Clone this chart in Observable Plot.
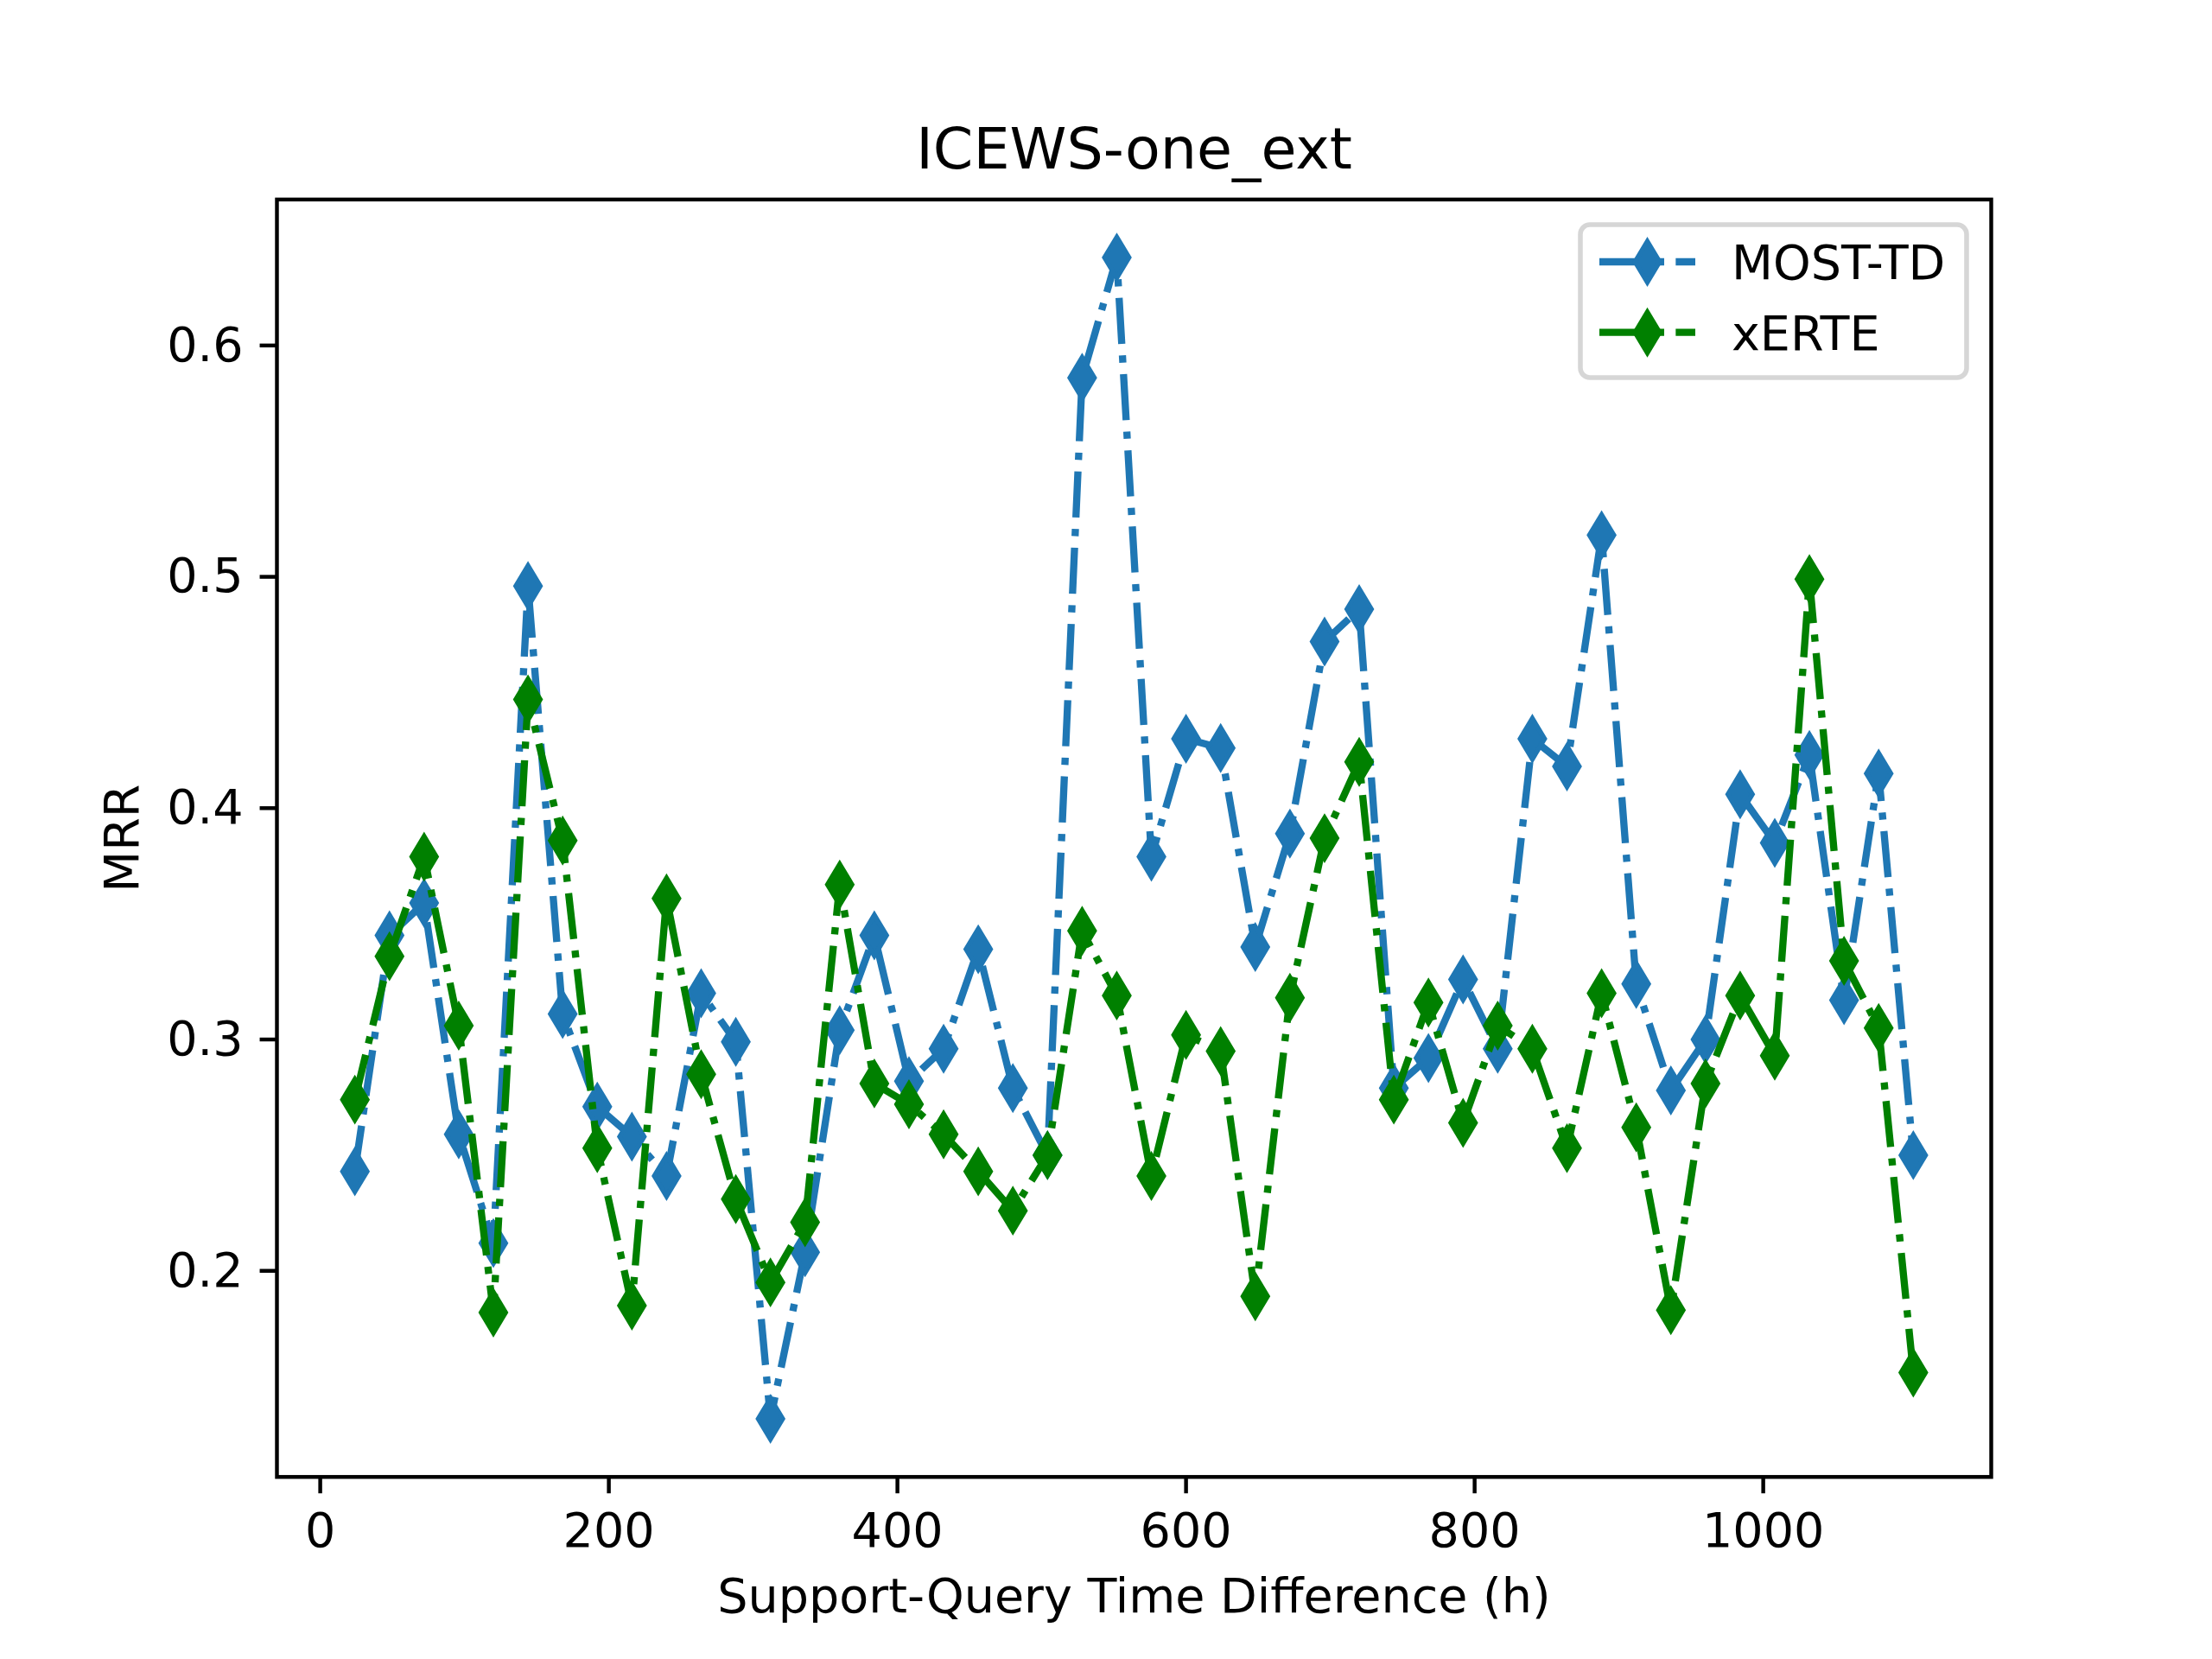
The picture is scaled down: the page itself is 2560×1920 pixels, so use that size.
<!DOCTYPE html>
<html><head><meta charset="utf-8">
<script src="https://cdn.jsdelivr.net/npm/d3@7"></script>
<script src="https://cdn.jsdelivr.net/npm/@observablehq/plot@0.6"></script>
<style>
html,body{margin:0;padding:0;background:#fff;}
#wrap{position:relative;width:2560px;height:1920px;font-family:"DejaVu Sans",sans-serif;}
#legend{position:absolute;left:0;top:0;pointer-events:none;}
</style></head><body><div id="wrap"></div>
<script>
const chartTitle = "ICEWS-one_ext";
const xLabel = "Support-Query Time Difference (h)";
const yLabel = "MRR";
const seriesNames = ["MOST-TD", "xERTE"];
const seriesColors = ["#1f77b4", "#008000"];
const xTicks = [0, 200, 400, 600, 800, 1000];
const yTicks = [0.2, 0.3, 0.4, 0.5, 0.6];
const hours = [24,48,72,96,120,144,168,192,216,240,264,288,312,336,360,384,408,432,456,480,504,528,552,576,600,624,648,672,696,720,744,768,792,816,840,864,888,912,936,960,984,1008,1032,1056,1080,1104];
const mostTD = [0.243,0.345,0.359,0.259,0.212,0.496,0.311,0.271,0.258,0.241,0.320,0.299,0.136,0.208,0.304,0.345,0.282,0.296,0.339,0.279,0.250,0.586,0.638,0.379,0.430,0.426,0.340,0.389,0.472,0.486,0.279,0.292,0.326,0.296,0.430,0.418,0.518,0.324,0.278,0.300,0.406,0.385,0.423,0.317,0.415,0.250];
const xERTE = [0.274,0.336,0.379,0.306,0.182,0.447,0.386,0.253,0.185,0.361,0.285,0.231,0.195,0.221,0.367,0.281,0.272,0.259,0.243,0.226,0.250,0.347,0.319,0.241,0.302,0.295,0.189,0.318,0.387,0.420,0.274,0.316,0.264,0.306,0.296,0.253,0.320,0.262,0.183,0.281,0.319,0.293,0.499,0.334,0.305,0.156];

const PT = 400 / 72;
const FS = 10 * PT;
const W = 2560, H = 1920;
const mL = 0.125 * W, mR = 0.1 * W, mT = 0.12 * H, mB = 0.11 * H;
function padded(vals) { const [a, b] = d3.extent(vals); const p = (b - a) * 0.05; return [a - p, b + p]; }
const seriesValues = [mostTD, xERTE];
const rows = seriesValues.map(vals => hours.map((h, i) => ({h, v: vals[i]})));
const dash = [6.4, 1.6, 1, 1.6].map(d => d * 1.5 * PT).join(",");
const HH = 6 * PT * Math.SQRT1_2, HW = 0.6 * HH;
const thinDiamond = {draw(ctx) { ctx.moveTo(0, -HH); ctx.lineTo(HW, 0); ctx.lineTo(0, HH); ctx.lineTo(-HW, 0); ctx.closePath(); }};

const seriesMarks = rows.flatMap((r, k) => [
  Plot.line(r, {x: "h", y: "v", stroke: seriesColors[k], strokeWidth: 1.5 * PT, strokeDasharray: dash, strokeLinecap: "butt", strokeLinejoin: "round"}),
  Plot.dot(r, {x: "h", y: "v", symbol: thinDiamond, fill: seriesColors[k], stroke: seriesColors[k], strokeWidth: PT, strokeLinejoin: "miter"})
]);

const chart = Plot.plot({
  width: W, height: H,
  marginLeft: mL, marginRight: mR, marginTop: mT, marginBottom: mB,
  x: {domain: padded(hours)},
  y: {domain: padded([...mostTD, ...xERTE])},
  style: {fontFamily: "DejaVu Sans", fontSize: FS + "px", background: "white", color: "black", overflow: "visible"},
  marks: [
    Plot.axisX({ticks: xTicks, tickSize: 3.5 * PT, tickPadding: 4 * PT, tickFormat: d => String(d), strokeWidth: 0.8 * PT, label: null}),
    Plot.axisY({ticks: yTicks, tickSize: 3.5 * PT, tickPadding: 3.5 * PT, tickFormat: d => d.toFixed(1), strokeWidth: 0.8 * PT, label: null}),
    ...seriesMarks,
    Plot.frame({stroke: "black", strokeWidth: 0.8 * PT}),
    Plot.text([chartTitle], {text: d => d, frameAnchor: "top", dy: -57.4, textAnchor: "middle", lineAnchor: "middle", fontSize: 12 * PT, fill: "black"}),
    Plot.text([xLabel], {text: d => d, frameAnchor: "bottom", dy: 139, textAnchor: "middle", lineAnchor: "middle", fontSize: FS, fill: "black"}),
    Plot.text([yLabel], {text: d => d, frameAnchor: "left", dx: -178, rotate: -90, textAnchor: "middle", lineAnchor: "middle", fontSize: FS, fill: "black"})
  ]
});
const wrap = document.getElementById("wrap");
wrap.appendChild(chart);

// legend (upper right)
const lg = d3.select(wrap).append("svg").attr("id", "legend").attr("width", W).attr("height", H);
lg.append("rect").attr("x", 1829).attr("y", 260).attr("width", 447).attr("height", 177).attr("rx", 11)
  .attr("fill", "white").attr("fill-opacity", 0.8).attr("stroke", "#cccccc").attr("stroke-opacity", 0.8).attr("stroke-width", PT);
seriesNames.forEach((name, k) => {
  const cy = 303 + k * 81.7;
  lg.append("line").attr("x1", 1851).attr("x2", 1962).attr("y1", cy).attr("y2", cy)
    .attr("stroke", seriesColors[k]).attr("stroke-width", 1.5 * PT).attr("stroke-dasharray", dash).attr("stroke-linecap", "butt");
  lg.append("path").attr("transform", `translate(1906.5,${cy})`)
    .attr("d", `M0,${-HH}L${HW},0L0,${HH}L${-HW},0Z`)
    .attr("fill", seriesColors[k]).attr("stroke", seriesColors[k]).attr("stroke-width", PT).attr("stroke-linejoin", "miter");
  lg.append("text").attr("x", 2004).attr("y", cy).attr("dy", "0.36em")
    .attr("font-family", "DejaVu Sans").attr("font-size", FS).attr("fill", "black").text(name);
});
</script></body></html>
